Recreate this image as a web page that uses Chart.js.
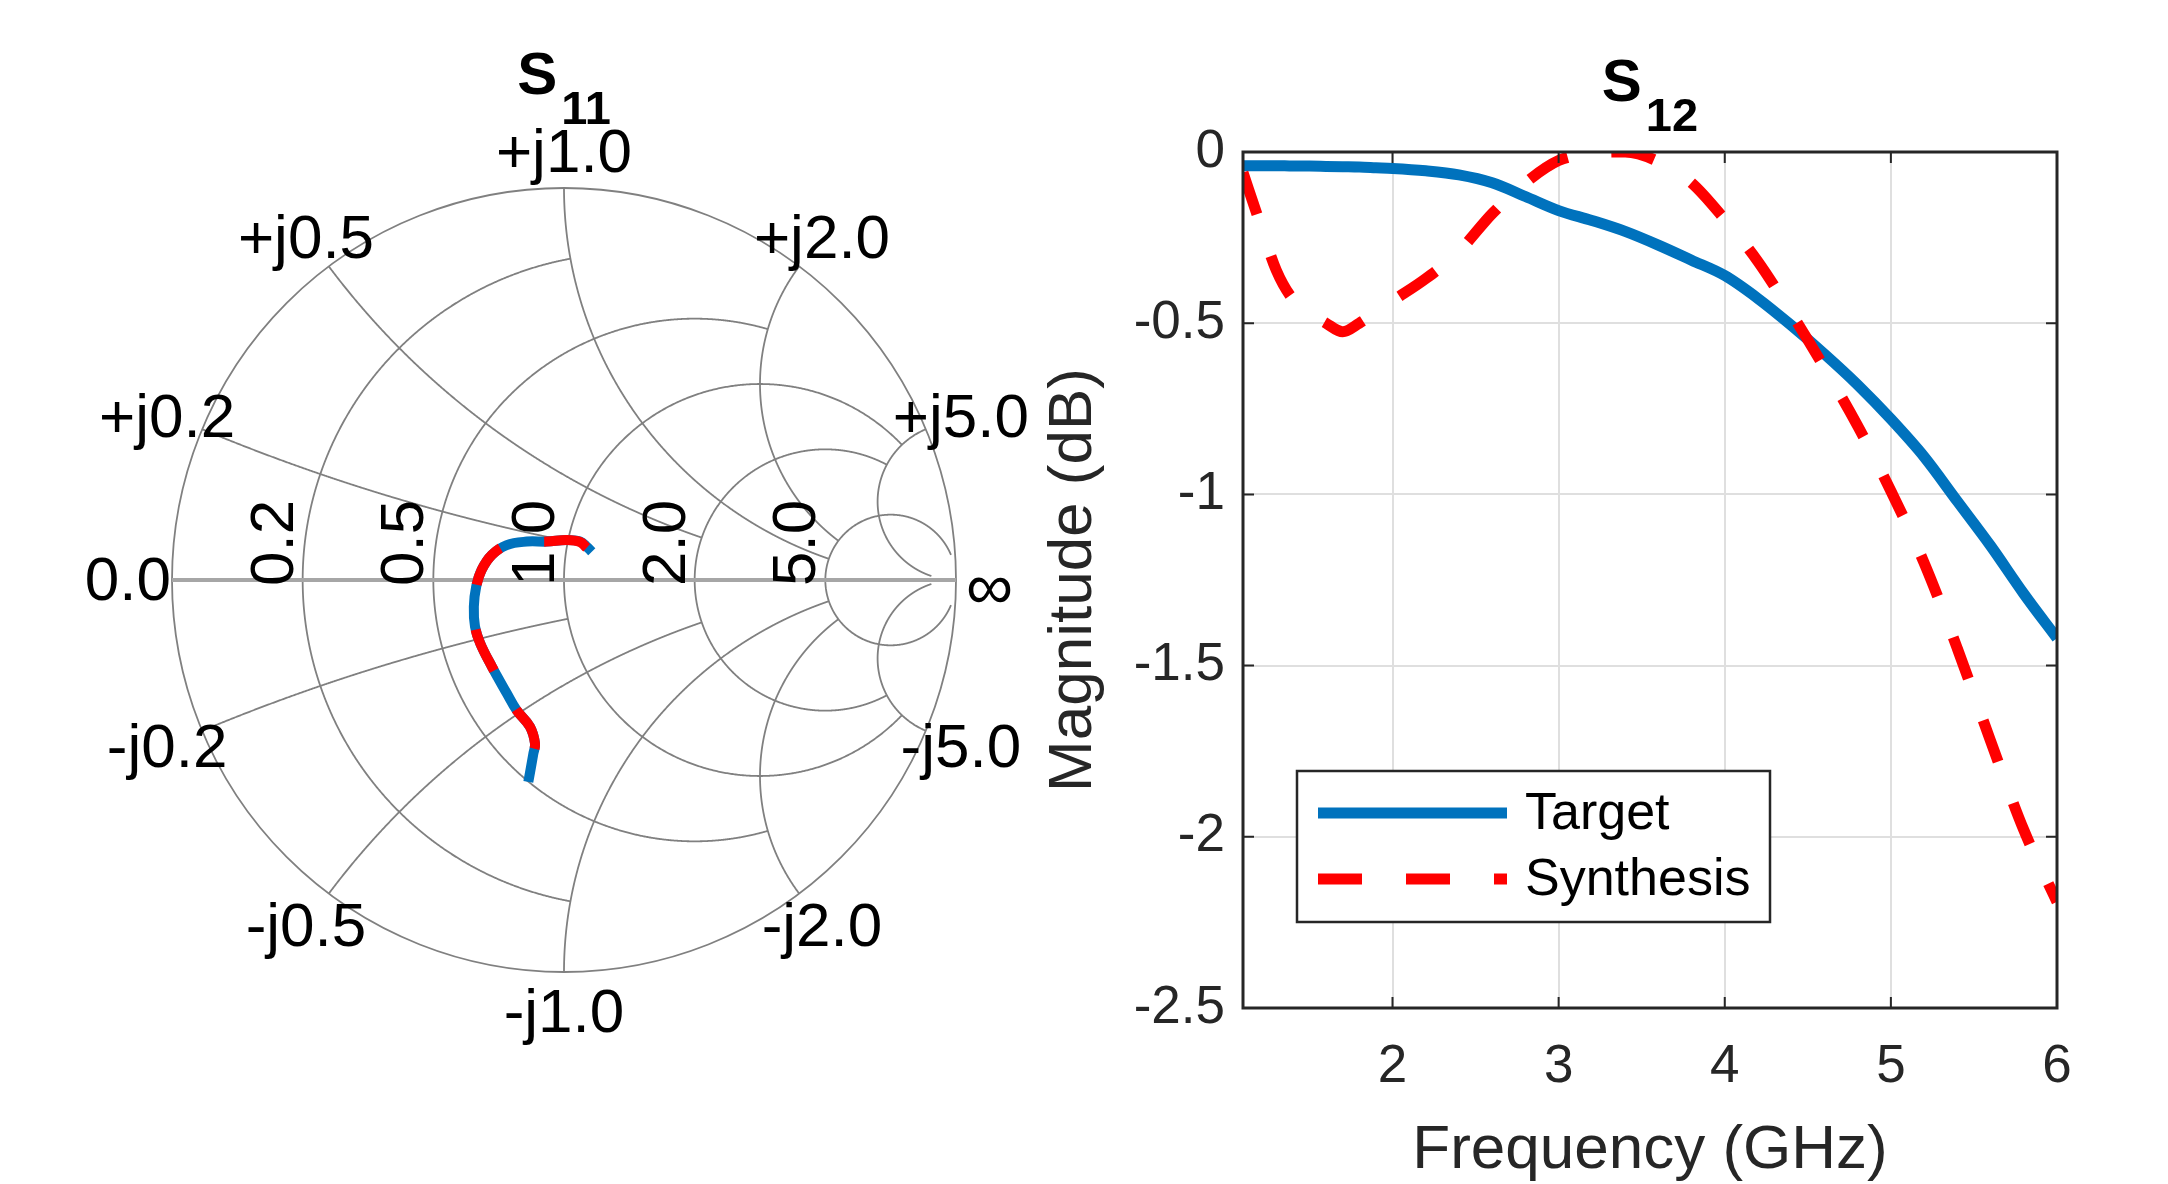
<!DOCTYPE html>
<html>
<head>
<meta charset="utf-8">
<script src="https://cdn.jsdelivr.net/npm/chart.js@4.4.1/dist/chart.umd.min.js"></script>
<style>
  html, body { margin: 0; padding: 0; background: #fff; }
  body { width: 2168px; height: 1184px; position: relative; overflow: hidden; }
  canvas { position: absolute; top: 0; }
  #smith-chart { left: 0; }
  #s12-chart { left: 1030px; }
</style>
</head>
<body>
<canvas id="smith-chart" width="1030" height="1184"></canvas>
<canvas id="s12-chart" width="1138" height="1184"></canvas>
<script>
const FONT = '"Liberation Sans", Arial, Helvetica, sans-serif';

// Smith chart grid (values / clip limits, like matlab smithchart)
const smithGridValues = [0.2, 0.5, 1, 2, 5];
const smithGridLimits = [1, 2, 5, 5, 30];

// S11 reflection coefficient (real / imag)
const targetGammaRe = [0.071, 0.058, 0.041, 0.007, -0.044, -0.095, -0.146, -0.184, -0.210, -0.224, -0.230, -0.227, -0.214, -0.184, -0.146, -0.121, -0.087, -0.074, -0.078, -0.091];
const targetGammaIm = [0.072, 0.085, 0.098, 0.102, 0.098, 0.098, 0.089, 0.064, 0.026, -0.017, -0.068, -0.119, -0.161, -0.221, -0.289, -0.332, -0.374, -0.417, -0.442, -0.515];
const synthGammaRe = [0.058, 0.041, 0.007, -0.044, -0.095, -0.146, -0.184, -0.210, -0.224, -0.230, -0.227, -0.214, -0.184, -0.146, -0.121, -0.087, -0.074, -0.078, -0.085];
const synthGammaIm = [0.082, 0.097, 0.102, 0.098, 0.098, 0.089, 0.064, 0.026, -0.017, -0.068, -0.119, -0.161, -0.221, -0.289, -0.332, -0.374, -0.417, -0.442, -0.490];

// S12 magnitude
const freqGHz = [1.1, 1.2, 1.3, 1.4, 1.5, 1.6, 1.7, 1.8, 1.9, 2.0, 2.2, 2.4, 2.6, 2.8, 3.0, 3.2, 3.4, 3.6, 3.8, 4.0, 4.2, 4.4, 4.6, 4.8, 5.0, 5.2, 5.4, 5.6, 5.8, 6.0];
const s12Target = [-0.040, -0.040, -0.040, -0.041, -0.041, -0.042, -0.043, -0.044, -0.046, -0.048, -0.055, -0.067, -0.090, -0.130, -0.171, -0.200, -0.232, -0.272, -0.316, -0.361, -0.428, -0.506, -0.590, -0.680, -0.780, -0.890, -1.020, -1.150, -1.290, -1.420];
const s12Synthesis = [-0.060, -0.205, -0.345, -0.430, -0.470, -0.500, -0.525, -0.500, -0.468, -0.435, -0.370, -0.290, -0.180, -0.090, -0.025, -0.004, 0.000, -0.028, -0.090, -0.197, -0.320, -0.470, -0.630, -0.800, -0.990, -1.200, -1.450, -1.720, -1.980, -2.190];

const xTickValues = [2, 3, 4, 5, 6];
const yTickValues = [0, -0.5, -1, -1.5, -2, -2.5];

function toPoints(xs, ys) {
    return xs.map((x, i) => ({ x: x, y: ys[i] }));
}

// gamma = (z - 1) / (z + 1), z = r + jx
function gammaOf(r, x) {
    const den = (r + 1) * (r + 1) + x * x;
    return [(r * r - 1 + x * x) / den, (2 * x) / den];
}

const titlePlugin = {
    id: 'subTitle',
    afterDraw(chart, args, opts) {
        const ctx = chart.ctx;
        const ca = chart.chartArea;
        ctx.save();
        ctx.fillStyle = '#000';
        ctx.textBaseline = 'alphabetic';
        ctx.font = 'bold 60px ' + FONT;
        const wMain = ctx.measureText(opts.text).width;
        ctx.font = 'bold 47px ' + FONT;
        const wSub = ctx.measureText(opts.sub).width;
        const x0 = (ca.left + ca.right) / 2 - (wMain + wSub + 4) / 2;
        ctx.font = 'bold 60px ' + FONT;
        ctx.textAlign = 'left';
        ctx.fillText(opts.text, x0, opts.baseline);
        ctx.font = 'bold 47px ' + FONT;
        ctx.fillText(opts.sub, x0 + wMain + 4, opts.baseline + 30);
        ctx.restore();
    }
};

const smithGridPlugin = {
    id: 'smithGrid',
    beforeDatasetsDraw(chart) {
        const ctx = chart.ctx;
        const xs = chart.scales.x;
        const ys = chart.scales.y;
        const px = v => xs.getPixelForValue(v);
        const py = v => ys.getPixelForValue(v);
        const R = px(1) - px(0);

        ctx.save();
        ctx.strokeStyle = '#808080';
        ctx.lineWidth = 1.8;

        // outer circle r = 0
        ctx.beginPath();
        ctx.arc(px(0), py(0), R, 0, Math.PI * 2);
        ctx.stroke();

        const N = 900;
        smithGridValues.forEach((val, k) => {
            const lim = smithGridLimits[k];
            // resistance circle, clipped at |x| <= lim
            ctx.beginPath();
            for (let i = 0; i <= N; i++) {
                const x = -lim + 2 * lim * i / N;
                const g = gammaOf(val, x);
                if (i === 0) ctx.moveTo(px(g[0]), py(g[1]));
                else ctx.lineTo(px(g[0]), py(g[1]));
            }
            ctx.stroke();
            // reactance arcs +/- val, clipped at r <= lim
            [val, -val].forEach(xv => {
                ctx.beginPath();
                for (let i = 0; i <= N; i++) {
                    const r = lim * i / N;
                    const g = gammaOf(r, xv);
                    if (i === 0) ctx.moveTo(px(g[0]), py(g[1]));
                    else ctx.lineTo(px(g[0]), py(g[1]));
                }
                ctx.stroke();
            });
        });

        // real axis
        ctx.strokeStyle = '#a6a6a6';
        ctx.lineWidth = 4;
        ctx.beginPath();
        ctx.moveTo(px(-1), py(0));
        ctx.lineTo(px(1), py(0));
        ctx.stroke();

        // labels
        ctx.fillStyle = '#000';
        ctx.font = '62px ' + FONT;
        ctx.textAlign = 'center';
        ctx.textBaseline = 'middle';
        smithGridValues.forEach(val => {
            [val, -val].forEach(xv => {
                const g = gammaOf(0, xv);
                const lx = px(g[0]) + 38 * g[0];
                const ly = py(g[1]) - 38 * g[1] + 5;
                ctx.fillText((xv > 0 ? '+j' : '-j') + Math.abs(xv).toFixed(1), lx, ly);
            });
            const g = gammaOf(val, 0);
            ctx.save();
            ctx.translate(px(g[0]) - 10, py(0) + 6);
            ctx.rotate(-Math.PI / 2);
            ctx.textAlign = 'left';
            ctx.textBaseline = 'alphabetic';
            ctx.fillText(val.toFixed(1), 0, 0);
            ctx.restore();
        });
        ctx.textAlign = 'right';
        ctx.fillText('0.0', px(-1) - 1, py(0) + 3);
        ctx.textAlign = 'left';
        ctx.font = '66px ' + FONT;
        ctx.fillText('\u221E', px(1) + 10, py(0) + 11);
        ctx.restore();
    }
};

new Chart(document.getElementById('smith-chart'), {
    type: 'scatter',
    data: {
        datasets: [{
            label: 'Target',
            data: toPoints(targetGammaRe, targetGammaIm),
            showLine: true,
            borderColor: '#0072BD',
            borderWidth: 10,
            pointRadius: 0,
            tension: 0.4,
            order: 1
        }, {
            label: 'Synthesis',
            data: toPoints(synthGammaRe, synthGammaIm),
            showLine: true,
            borderColor: '#FF0000',
            borderWidth: 10,
            borderDash: [45, 45],
            pointRadius: 0,
            tension: 0.4,
            order: 0
        }]
    },
    options: {
        responsive: false,
        animation: false,
        events: [],
        layout: { padding: { left: 172, right: 74, top: 188, bottom: 212 } },
        scales: {
            x: { type: 'linear', min: -1, max: 1, display: false },
            y: { type: 'linear', min: -1, max: 1, display: false }
        },
        plugins: {
            legend: { display: false },
            tooltip: { enabled: false },
            subTitle: { text: 'S', sub: '11', baseline: 94 }
        }
    },
    plugins: [smithGridPlugin, titlePlugin]
});

const boxPlugin = {
    id: 'axesBox',
    afterDraw(chart) {
        const ctx = chart.ctx;
        const ca = chart.chartArea;
        const xs = chart.scales.x;
        const ys = chart.scales.y;
        ctx.save();
        ctx.strokeStyle = '#262626';
        ctx.lineWidth = 2;
        ctx.beginPath();
        xTickValues.forEach(v => {
            const x = xs.getPixelForValue(v);
            ctx.moveTo(x, ca.bottom); ctx.lineTo(x, ca.bottom - 11);
            ctx.moveTo(x, ca.top); ctx.lineTo(x, ca.top + 11);
        });
        yTickValues.forEach(v => {
            const y = ys.getPixelForValue(v);
            ctx.moveTo(ca.left, y); ctx.lineTo(ca.left + 11, y);
            ctx.moveTo(ca.right, y); ctx.lineTo(ca.right - 11, y);
        });
        ctx.stroke();
        ctx.lineWidth = 3;
        ctx.strokeRect(ca.left, ca.top, ca.right - ca.left, ca.bottom - ca.top);
        ctx.restore();
    }
};

const legendPlugin = {
    id: 'boxLegend',
    afterDraw(chart) {
        const ctx = chart.ctx;
        const ca = chart.chartArea;
        const left = ca.left + 54;
        const top = ca.bottom - 237;
        const w = 473, h = 151;
        ctx.save();
        ctx.fillStyle = '#fff';
        ctx.fillRect(left, top, w, h);
        ctx.strokeStyle = '#262626';
        ctx.lineWidth = 2.5;
        ctx.strokeRect(left, top, w, h);
        ctx.font = '52px ' + FONT;
        ctx.textAlign = 'left';
        ctx.textBaseline = 'middle';
        chart.data.datasets.forEach((ds, i) => {
            const y = top + 42 + i * 66;
            ctx.strokeStyle = ds.borderColor;
            ctx.lineWidth = ds.borderWidth;
            ctx.setLineDash(ds.borderDash || []);
            ctx.lineCap = 'butt';
            ctx.beginPath();
            ctx.moveTo(left + 21, y);
            ctx.lineTo(left + 210, y);
            ctx.stroke();
            ctx.setLineDash([]);
            ctx.fillStyle = '#000';
            ctx.fillText(ds.label, left + 228, y + 2);
        });
        ctx.restore();
    }
};

new Chart(document.getElementById('s12-chart'), {
    type: 'line',
    data: {
        datasets: [{
            label: 'Target',
            data: toPoints(freqGHz, s12Target),
            borderColor: '#0072BD',
            borderWidth: 11,
            pointRadius: 0,
            cubicInterpolationMode: 'monotone',
            order: 1
        }, {
            label: 'Synthesis',
            data: toPoints(freqGHz, s12Synthesis),
            borderColor: '#FF0000',
            borderWidth: 11,
            borderDash: [44, 44],
            pointRadius: 0,
            cubicInterpolationMode: 'monotone',
            order: 0
        }]
    },
    options: {
        responsive: false,
        animation: false,
        events: [],
        layout: { padding: { left: 0, right: 111, top: 152, bottom: 0 } },
        scales: {
            x: {
                type: 'linear',
                min: 1.1,
                max: 6,
                afterBuildTicks: s => { s.ticks = xTickValues.map(v => ({ value: v })); },
                afterFit: s => { s.height = 176; },
                grid: { color: '#dfdfdf', lineWidth: 2, drawTicks: false },
                border: { display: false },
                ticks: {
                    color: '#262626',
                    padding: 28,
                    maxRotation: 0,
                    autoSkip: false,
                    font: { family: FONT, size: 53, lineHeight: 1.2 }
                },
                title: {
                    display: true,
                    text: 'Frequency (GHz)',
                    color: '#262626',
                    padding: { top: 0, bottom: 2 },
                    font: { family: FONT, size: 62, lineHeight: 1 }
                }
            },
            y: {
                type: 'linear',
                min: -2.5,
                max: 0,
                afterBuildTicks: s => { s.ticks = yTickValues.map(v => ({ value: v })); },
                afterFit: s => { s.width = 213; },
                grid: { color: '#dfdfdf', lineWidth: 2, drawTicks: false },
                border: { display: false },
                ticks: {
                    color: '#262626',
                    padding: 18,
                    callback: value => String(value),
                    font: { family: FONT, size: 53, lineHeight: 1.2 }
                },
                title: {
                    display: true,
                    text: 'Magnitude (dB)',
                    color: '#262626',
                    padding: { top: 13, bottom: 0 },
                    font: { family: FONT, size: 62, lineHeight: 1 }
                }
            }
        },
        plugins: {
            legend: { display: false },
            tooltip: { enabled: false },
            subTitle: { text: 'S', sub: '12', baseline: 101 }
        }
    },
    plugins: [boxPlugin, legendPlugin, titlePlugin]
});
</script>
</body>
</html>
